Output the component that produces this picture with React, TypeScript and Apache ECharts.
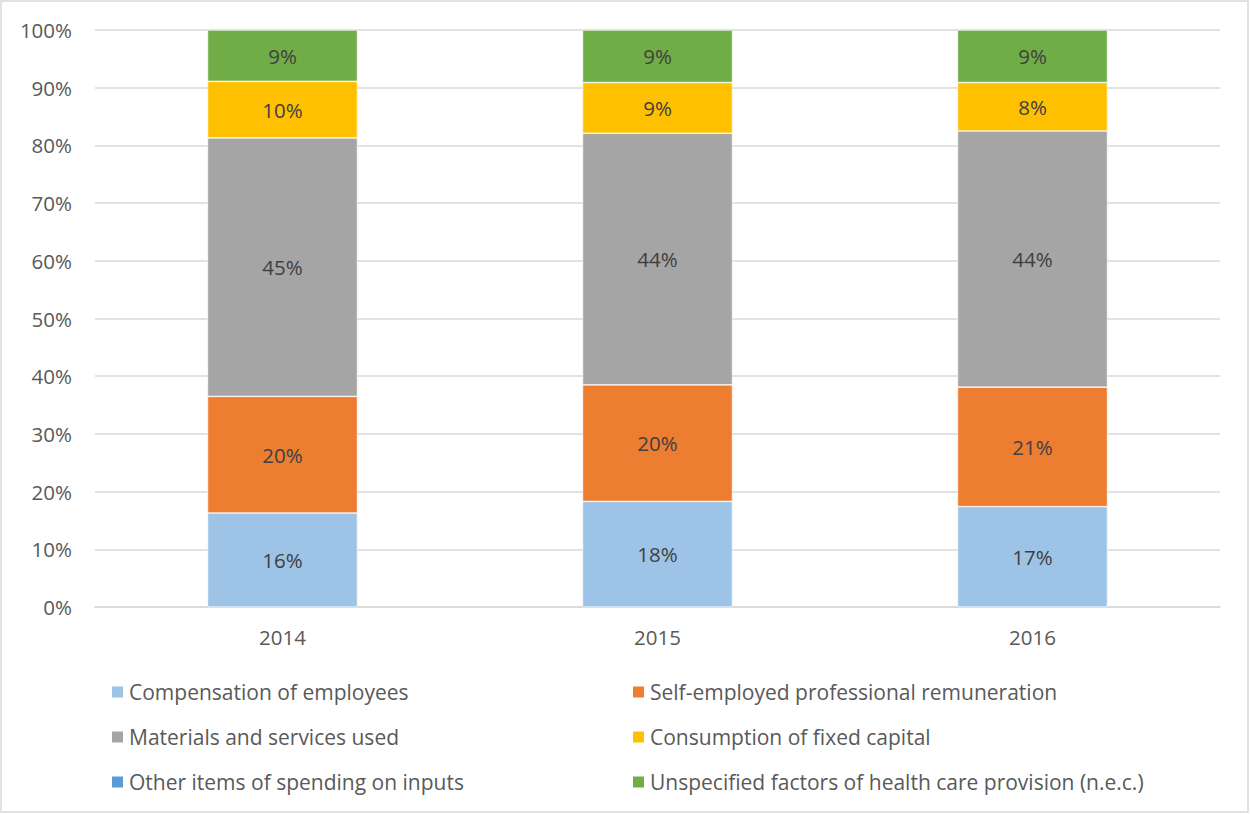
import React, { useEffect, useRef } from "react";
import * as echarts from "echarts";

const years = ["2014", "2015", "2016"];
const seriesNames = [
  "Compensation of employees",
  "Self-employed professional remuneration",
  "Materials and services used",
  "Consumption of fixed capital",
  "Other items of spending on inputs",
  "Unspecified factors of health care provision (n.e.c.)",
];
const compensation = [16.3, 18.3, 17.4];
const selfEmployed = [20.2, 20.2, 20.7];
const materials = [44.8, 43.6, 44.4];
const fixedCapital = [9.8, 8.8, 8.4];
const otherItems = [0, 0, 0];
const unspecified = [8.9, 9.1, 9.1];
const yTicks = ["0%", "10%", "20%", "30%", "40%", "50%", "60%", "70%", "80%", "90%", "100%"];

const colors = ["#9DC3E6", "#ED7D31", "#A5A5A5", "#FFC000", "#5B9BD5", "#70AD47"];
const FONT = "Open Sans";

export default function App() {
  const ref = useRef<HTMLDivElement>(null);
  useEffect(() => {
    document.body.style.margin = "0";
    if (!ref.current) return;
    const chart = echarts.init(ref.current, null, { renderer: "svg" });
    const values = [compensation, selfEmployed, materials, fixedCapital, otherItems, unspecified];
    const legendPos = [
      { left: 110, top: 680 },
      { left: 631, top: 680 },
      { left: 110, top: 725 },
      { left: 631, top: 725 },
      { left: 110, top: 770 },
      { left: 631, top: 770 },
    ];
    chart.setOption({
      animation: false,
      color: colors,
      textStyle: { fontFamily: FONT },
      grid: { left: 95, right: 30, top: 30, bottom: 207, containLabel: false },
      legend: seriesNames.map((n, i) => ({
        data: [n],
        left: legendPos[i].left,
        top: legendPos[i].top,
        padding: 0,
        itemWidth: 13,
        itemHeight: 13,
        icon: "rect",
        selectedMode: false,
        textStyle: { color: "#595959", fontSize: 21, fontFamily: FONT, lineHeight: 24 },
      })),
      xAxis: {
        type: "category",
        data: years,
        axisLine: { lineStyle: { color: "#d9d9d9", width: 1.5 } },
        axisTick: { show: false },
        axisLabel: { color: "#595959", fontSize: 20.5, margin: 19, fontFamily: FONT },
      },
      yAxis: {
        type: "value",
        min: 0,
        max: 100,
        interval: 10,
        axisLine: { show: false },
        axisTick: { show: false },
        splitLine: { lineStyle: { color: "#d9d9d9", width: 1.5 } },
        axisLabel: {
          color: "#595959",
          fontSize: 20.5,
          margin: 23,
          fontFamily: FONT,
          formatter: (v: number) => yTicks[Math.round(v / 10)],
        },
      },
      graphic: [
        {
          type: "rect",
          shape: { x: 1, y: 1, width: 1247, height: 811 },
          style: { fill: "none", stroke: "#d9d9d9", lineWidth: 1.5 },
          silent: true,
        },
      ],
      series: seriesNames.map((n, i) => ({
        name: n,
        type: "bar",
        stack: "total",
        barWidth: "40%",
        data: values[i],
        itemStyle: { color: colors[i], borderColor: "#ffffff", borderWidth: 0.6 },
        label: {
          show: true,
          position: "inside",
          color: "#404040",
          fontSize: 20.5,
          fontFamily: FONT,
          formatter: (p: any) => (p.value > 0 ? Math.round(p.value) + "%" : ""),
        },
      })),
    });
    return () => chart.dispose();
  }, []);
  return <div ref={ref} style={{ width: 1250, height: 814 }} />;
}
